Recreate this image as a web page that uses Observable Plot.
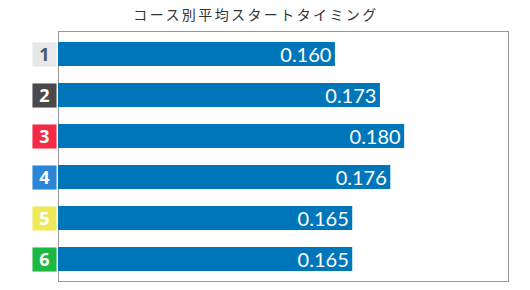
<!DOCTYPE html>
<html>
<head>
<meta charset="utf-8">
<script src="https://cdn.jsdelivr.net/npm/d3@7"></script>
<script src="https://cdn.jsdelivr.net/npm/@observablehq/plot@0.6"></script>
<style>
  body { margin: 0; background: #fff; }
  #title { height: 26px; width: 512px; text-align: center; font-family: "Noto Sans CJK JP", sans-serif; font-size: 14px; letter-spacing: 2.4px; color: #333; line-height: 28px; }
  #chart svg { display: block; }
</style>
</head>
<body>
<div id="title">コース別平均スタートタイミング</div>
<div id="chart"></div>
<script>
const courses = ["1", "2", "3", "4", "5", "6"];
const values = [0.160, 0.173, 0.180, 0.176, 0.165, 0.165];
const boxColors = ["#e8e8e8", "#4a4a4a", "#f52a44", "#2b86d8", "#ede95a", "#1db843"];
const numColors = ["#4e5866", "#ffffff", "#ffffff", "#ffffff", "#ffffff", "#ffffff"];
const labels = values.map(v => v.toFixed(3));

const data = courses.map((c, i) => ({course: c, value: values[i], box: boxColors[i], num: numColors[i], label: labels[i]}));

const chart = Plot.plot({
  width: 530,
  height: 264,
  marginTop: 5,
  marginBottom: 9,
  marginLeft: 58,
  marginRight: 22,
  x: {domain: [0.08, 0.21], axis: null},
  y: {domain: courses, axis: null, paddingInner: 0.41, paddingOuter: 0.22, align: 0.54},
  color: {type: "identity"},
  marks: [
    Plot.frame({stroke: "#999"}),
    Plot.barX(data, {y: "course", x1: 0.08, x2: "value", fill: "#0076ba"}),
    Plot.text(data, {y: "course", x: "value", text: "label", fill: "#fff", textAnchor: "end", dx: -4, dy: 1, fontSize: 20, fontFamily: "Lato"}),
    Plot.dot(data, {y: "course", frameAnchor: "left", dx: -14, symbol: "square", r: 13.6, fill: "box", stroke: null}),
    Plot.text(data, {y: "course", frameAnchor: "left", dx: -14, dy: 1, textAnchor: "middle", text: "course", fill: "num", fontSize: 18, fontWeight: "bold", fontFamily: "Open Sans"})
  ]
});
document.getElementById("chart").appendChild(chart);
</script>
</body>
</html>
